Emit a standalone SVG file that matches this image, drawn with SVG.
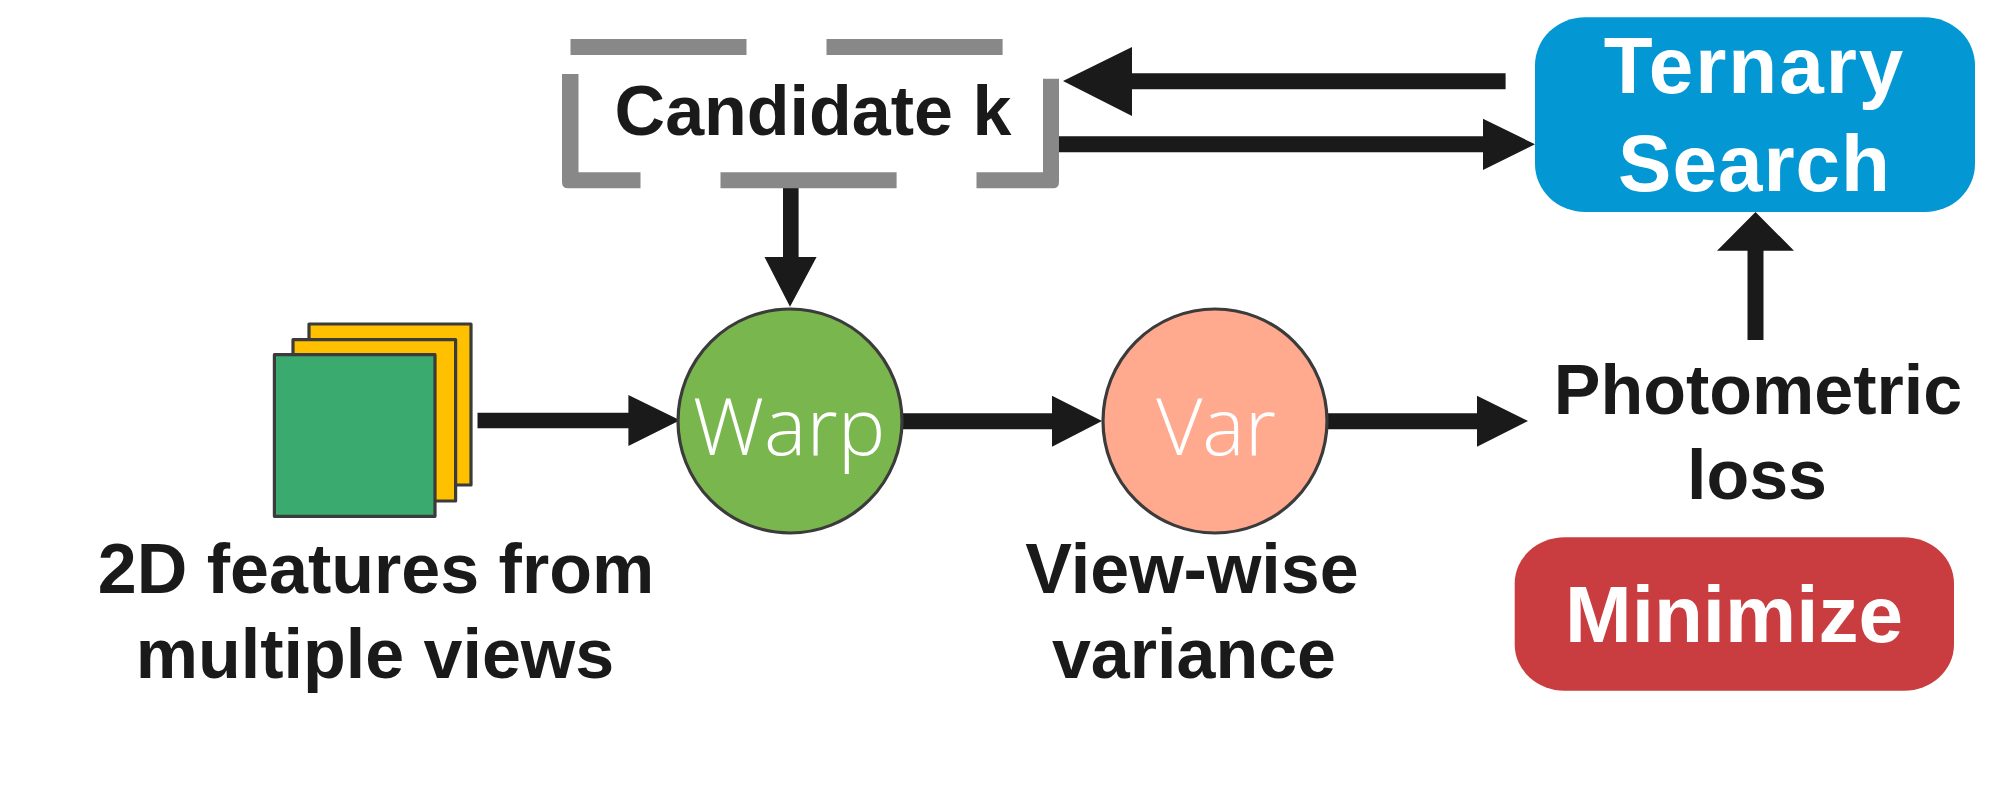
<svg xmlns="http://www.w3.org/2000/svg" width="2000" height="812" viewBox="0 0 2000 812">
<style>
.t{font-family:"Liberation Sans",Arial,sans-serif;font-weight:700;font-size:70px;fill:#1a1a1a;text-anchor:middle}
.w{font-family:"Liberation Sans",Arial,sans-serif;font-weight:700;font-size:80px;fill:#fff;text-anchor:middle}
.l{font-family:"Open Sans",sans-serif;font-weight:300;font-size:80px;fill:#fff;text-anchor:middle}
.c{fill:#1a1a1a}
.s{stroke:#3b3b3b;stroke-width:3.2;stroke-linejoin:round}
</style>
<rect width="2000" height="812" fill="#fff"/>
<g id="connectors">
<path class="c" d="M783 188H798.6V257H816.6L790 306.7L764.5 257H783Z"/>
<path class="c" d="M1505.6 73.3V89.3H1132V116L1063 81L1132 47V73.3Z"/>
<path class="c" d="M1052 136.3H1483V118.7L1535 144.3L1483 170V152.3H1052Z"/>
<path class="c" d="M1747.5 340V250.7H1717L1755.5 212L1794 250.7H1763.5V340Z"/>
<path class="c" d="M477.5 412.7H628.4V395L680 420.3L628.4 446V428.3H477.5Z"/>
<path class="c" d="M900 413.3H1052V395.7L1102 421L1052 446.7V429.3H900Z"/>
<path class="c" d="M1326 413.3H1477V395.7L1528 421L1477 446.7V429.3H1326Z"/>
</g>
<g id="candidate">
<path fill="#888" d="M570.5 39H746.5V55H570.5ZM826.5 39H1002.6V55H826.5ZM562 74H578.5V172.3H640.5V188.3H568Q562 188.3 562 182ZM720.5 172.3H896.6V188.3H720.5ZM1043 78.7H1059V182Q1059 188.3 1053 188.3H976.5V172.3H1043Z"/>
<text class="t" x="813" y="135">Candidate k</text>
</g>
<g id="ternary">
<rect x="1535" y="17.3" width="440" height="194.7" rx="50" ry="48" fill="#0398d4"/>
<text class="w" x="1754.5" y="93.3" letter-spacing="2">Ternary</text>
<text class="w" x="1754.5" y="191" letter-spacing="1">Search</text>
</g>
<g id="features">
<rect class="s" x="309" y="324" width="162" height="161" fill="#ffc000"/>
<rect class="s" x="293" y="339.7" width="162.6" height="161.3" fill="#ffc000"/>
<rect class="s" x="274.4" y="354.7" width="160.6" height="161.6" fill="#3aaa6e"/>
<text class="t" x="376" y="593">2D features from</text>
<text class="t" x="375" y="678">multiple views</text>
</g>
<g id="warp">
<circle class="s" cx="790" cy="421" r="112" fill="#7ab64e"/>
<text class="l" x="789" y="455">Warp</text>
</g>
<g id="var">
<circle class="s" cx="1215" cy="421" r="112" fill="#ffa98f"/>
<text class="l" x="1216" y="455">Var</text>
<text class="t" x="1192" y="592.7">View-wise</text>
<text class="t" x="1194" y="678">variance</text>
</g>
<g id="loss">
<text class="t" x="1758" y="414">Photometric</text>
<text class="t" x="1757" y="499.3">loss</text>
</g>
<g id="minimize">
<rect x="1514.7" y="537.3" width="439.3" height="153.4" rx="50" ry="46" fill="#c93d41"/>
<text class="w" x="1734" y="641.7">Minimize</text>
</g>
</svg>
